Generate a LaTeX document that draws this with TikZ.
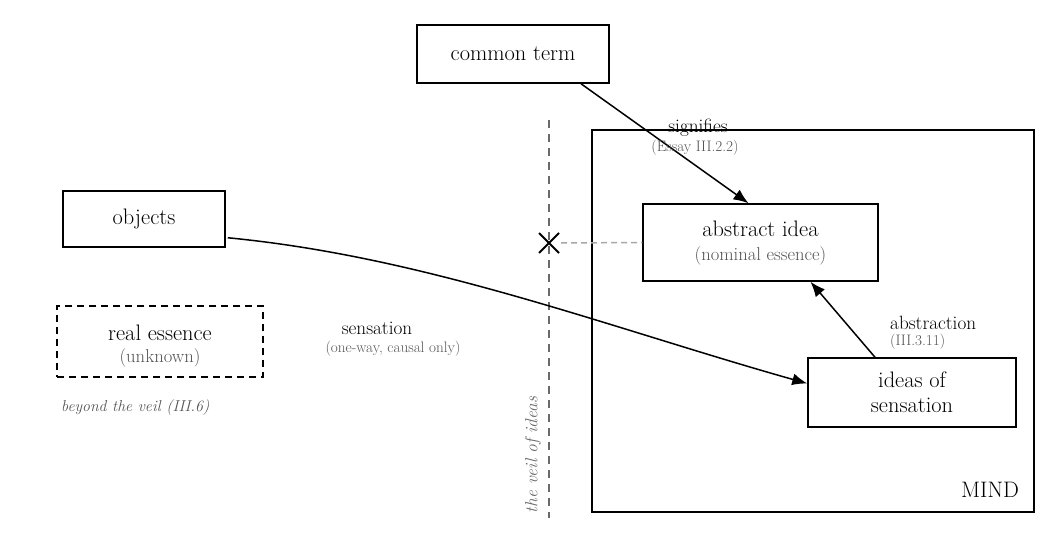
\documentclass[tikz,border=0pt]{standalone}
\usepackage{fontspec}
\usetikzlibrary{calc,arrows.meta}
\definecolor{subgray}{HTML}{555555}
\definecolor{veilgray}{HTML}{6A6A6A}
\definecolor{linkgray}{HTML}{A8A8A8}
\tikzset{
  box/.style={draw=black, line width=1.5pt, fill=white, inner sep=0pt},
  dashbox/.style={box, dash pattern=on 7pt off 5pt},
  maintext/.style={inner sep=0pt, font=\fontsize{22.4}{26}\selectfont},
  subtext/.style={inner sep=0pt, text=subgray, font=\fontsize{18.6}{22}\selectfont},
  edgelabel/.style={inner sep=0pt, font=\fontsize{19.2}{22}\selectfont},
  edgesub/.style={inner sep=0pt, text=subgray, font=\fontsize{15.2}{18}\selectfont},
  note/.style={inner sep=0pt, text=subgray, font=\fontsize{15.8}{18}\selectfont\itshape},
  arr/.style={line width=1.5pt, -{Latex[length=15pt,width=12pt]}},
}
\begin{document}
\begin{tikzpicture}[x=1pt,y=-1pt]
\useasboundingbox[fill=white] (0,0) rectangle (1062,543);

% MIND region
\node[box, minimum width=442pt, minimum height=382pt] (mind) at (813,321) {};
\node[maintext] (mindlbl) at (990,490) {MIND};

% veil of ideas
\coordinate (veiltop) at (549,120);
\coordinate (veilbot) at (549,518);
\draw[veilgray, line width=1.5pt, dash pattern=on 8pt off 6pt] (veiltop) -- (veilbot);
\node[note, rotate=90, text=veilgray, font=\fontsize{17.5}{20}\selectfont\itshape] (veillbl) at (533,455) {the veil of ideas};
\coordinate (veilx) at (549,243);
\draw[line width=2pt] ($(veilx)+(-10,-10)$) -- ($(veilx)+(10,10)$);
\draw[line width=2pt] ($(veilx)+(-10,10)$) -- ($(veilx)+(10,-10)$);

% boxes
\node[box, minimum width=192pt, minimum height=58pt] (ct) at (513,54) {};
\node[maintext] (cttext) at (513,54) {common term};

\node[box, minimum width=162pt, minimum height=56pt] (obj) at (144,219) {};
\node[maintext] (objtext) at (144,219) {objects};

\node[dashbox, minimum width=206pt, minimum height=71pt] (real) at (160,341.5) {};
\node[maintext] (realtext) at (160,333) {real essence};
\node[subtext] (realsub) at (160,358) {(unknown)};
\node[note, anchor=west] (beyond) at (61,408) {beyond the veil (III.6)};

\node[box, minimum width=235pt, minimum height=77pt] (abs) at (760.5,242.5) {};
\node[maintext] (abstext) at (760.5,229) {abstract idea};
\node[subtext] (abssub) at (760.5,256) {(nominal essence)};

\node[box, minimum width=208pt, minimum height=69pt] (ids) at (912,392.5) {};
\node[maintext] (idstext1) at (912,380) {ideas of};
\node[maintext] (idstext2) at (912,405) {sensation};

% connectors
\draw[linkgray, line width=1.5pt, dash pattern=on 6pt off 4pt] ($(veilx)+(12,0)$) -- (abs.west);

\draw[arr] ($(ct.south)+(68,0)$) -- ($(abs.north)+(-12,0)$);
\node[edgelabel] (siglbl) at (698,128) {signifies};
\node[edgesub] (sigsub) at (695,148) {(Essay III.2.2)};

\draw[arr] ($(obj.south east)+(2,-10)$) .. controls (427,257) and (607,327) .. ($(ids.west)+(0,-9)$);
\node[edgelabel] (senslbl) at (377,328) {sensation};
\node[edgesub] (senssub) at (393,349) {(one-way, causal only)};

\draw[arr] ($(ids.north)+(-37,0)$) -- ($(abs.south)+(50,0)$);
\node[edgelabel, anchor=west] (abslbl) at (890,323) {abstraction};
\node[edgesub, anchor=west] (abssub2) at (890,342) {(III.3.11)};
\end{tikzpicture}
\end{document}
